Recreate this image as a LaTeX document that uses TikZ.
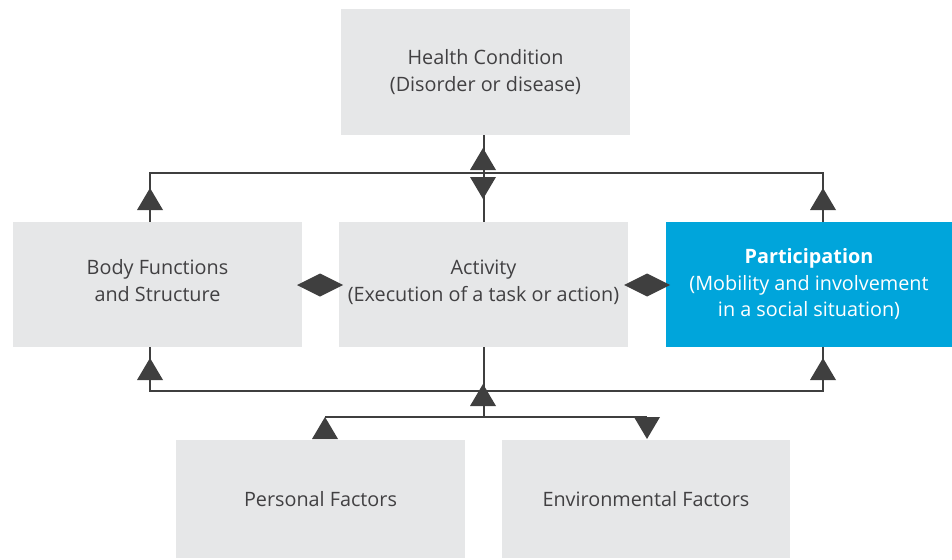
\documentclass[tikz,border=0pt]{standalone}
\usepackage{fontspec}
\setmainfont{Open Sans}
\begin{document}
\begin{tikzpicture}[x=1pt,y=-1pt,
  box/.style={fill=boxgray,text=txtgray,align=center,inner sep=0pt,
    minimum width=289pt,minimum height=125pt,font=\fontsize{19.8}{26.5}\selectfont},
  conn/.style={draw=linec,line width=2pt},
  upa/.pic={\fill[linec] (-13,0) -- (13,0) -- (0,-22) -- cycle;},
  downa/.pic={\fill[linec] (-13,0) -- (13,0) -- (0,22) -- cycle;},
  diam/.pic={\fill[linec] (-23,0) -- (0,-11.5) -- (23,0) -- (0,11.5) -- cycle;}
]
\definecolor{boxgray}{HTML}{E6E7E8}
\definecolor{txtgray}{HTML}{414042}
\definecolor{linec}{HTML}{3F3F3F}
\definecolor{partblue}{HTML}{00A5DB}
\useasboundingbox (0,0) rectangle (952,559);

\node[box] (hc) at (485.5,72) {Health Condition\\(Disorder or disease)};
\node[box] (bf) at (157.5,284.5) {Body Functions\\and Structure\rule[-8pt]{0pt}{0pt}};
\node[box] (act) at (483.5,284.5) {Activity\\(Execution of a task or action)\rule[-8pt]{0pt}{0pt}};
\node[box,fill=partblue,text=white,minimum width=286pt] (par) at (809,284.5)
  {\textbf{Participation}\\(Mobility and involvement\\in a social situation)};
\node[box,minimum height=118pt] (pf) at (320.5,499) {Personal Factors};
\node[box,minimum height=118pt,minimum width=288pt] (ef) at (646,499) {Environmental Factors};

\coordinate (top) at (0,173);
\coordinate (bot) at (0,391);
\coordinate (low) at (0,417);

% top connectors
\draw[conn] (act.north) -- (act.north |- hc.south);
\draw[conn] ([xshift=-7.5pt]bf.north) -- ([xshift=-7.5pt]bf.north |- top) -- ([xshift=14pt]par.north |- top) -- ([xshift=14pt]par.north);
% bottom connectors
\draw[conn] ([xshift=-7.5pt]bf.south) -- ([xshift=-7.5pt]bf.south |- bot) -- ([xshift=14pt]par.south |- bot) -- ([xshift=14pt]par.south);
\draw[conn] (act.south) -- (act.south |- low);
\draw[conn] ([xshift=4.5pt]pf.north |- low) -- ([xshift=1pt]ef.north |- low);

% arrowheads
\pic at (150,210) {upa};
\pic at (823,210) {upa};
\pic at (483,170) {upa};
\pic at (483,177) {downa};
\pic at (150,380) {upa};
\pic at (823,380) {upa};
\pic at (483,406) {upa};
\pic at (325,439) {upa};
\pic at (647,417) {downa};
\pic at (320,285) {diam};
\pic at (647,285) {diam};
\end{tikzpicture}
\end{document}
